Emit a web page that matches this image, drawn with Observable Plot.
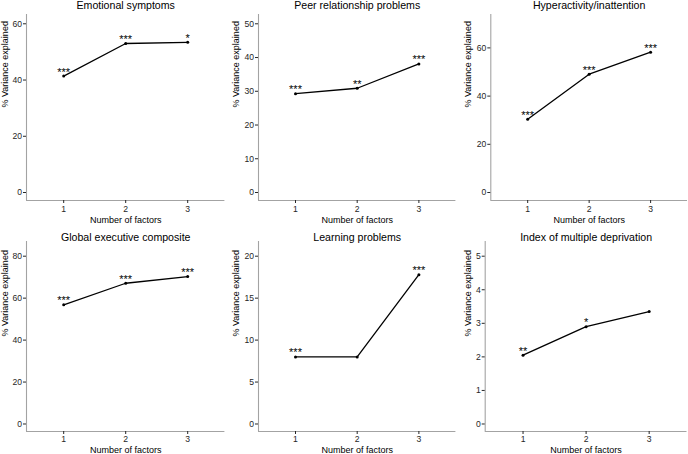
<!DOCTYPE html>
<html>
<head>
<meta charset="utf-8">
<script src="https://cdn.jsdelivr.net/npm/d3@7"></script>
<script src="https://cdn.jsdelivr.net/npm/@observablehq/plot@0.6"></script>
<style>
  html, body { margin: 0; padding: 0; background: white; }
  #wrap { position: relative; width: 688px; height: 454px; background: white; overflow: hidden; }
  #wrap > svg { position: absolute; overflow: visible; }
</style>
</head>
<body>
<div id="wrap"></div>
<script>
// ---- data ----
const titles = ["Emotional symptoms", "Peer relationship problems", "Hyperactivity/inattention",
                "Global executive composite", "Learning problems", "Index of multiple deprivation"];
const factors = [1, 2, 3];
const emotional   = [41.4, 53.0, 53.4];
const peer        = [29.3, 30.9, 38.1];
const hyper       = [30.4, 49.1, 58.2];
const executive   = [56.8, 67.1, 70.3];
const learning    = [8.0, 8.0, 17.8];
const deprivation = [2.05, 2.9, 3.35];
const sigEmotional   = ["***", "***", "*"];
const sigPeer        = ["***", "**", "***"];
const sigHyper       = ["***", "***", "***"];
const sigExecutive   = ["***", "***", "***"];
const sigLearning    = ["***", "", "***"];
const sigDeprivation = ["**", "*", ""];
const yLimits = [60, 50, 70, 80, 20, 5];
const yTicks = [
  [0, 20, 40, 60],
  [0, 10, 20, 30, 40, 50],
  [0, 20, 40, 60],
  [0, 20, 40, 60, 80],
  [0, 5, 10, 15, 20],
  [0, 1, 2, 3, 4, 5]
];
const xLabel = "Number of factors";
const yLabel = "% Variance explained";

const series = [emotional, peer, hyper, executive, learning, deprivation];
const sigs = [sigEmotional, sigPeer, sigHyper, sigExecutive, sigLearning, sigDeprivation];

// ---- layout ----
const top1 = {mT: 14, mB: 27, titleDy: -5.7, xDy: 22.7, tickPad: 2, lo: 0.0474, hi: 1.0551};
const top2 = {mT: 14, mB: 23, titleDy: -1.0, xDy: 21.8, tickPad: 1, lo: 0.0447, hi: 1.0876};
const layout = [
  {left: 0,   top: 0,   w: 229, h: 227, mL: 26,   mR: 4.6, yLab: 4.3, ...top1},
  {left: 229, top: 0,   w: 229, h: 227, mL: 29,   mR: 2.6, yLab: 6.7, ...top1},
  {left: 458, top: 0,   w: 230, h: 227, mL: 32.3, mR: 1.0, yLab: 9.7, ...top1},
  {left: 0,   top: 227, w: 229, h: 227, mL: 26,   mR: 4.6, yLab: 4.3, ...top2},
  {left: 229, top: 227, w: 229, h: 227, mL: 29,   mR: 2.6, yLab: 6.7, ...top2},
  {left: 458, top: 227, w: 230, h: 227, mL: 26.7, mR: 1.5, yLab: 9.7, ...top2}
];

const font = "'Liberation Sans', Arial, Helvetica, sans-serif";
const wrap = document.getElementById("wrap");
const xDomain = [0.4, 3.6];
const fmt = d => String(d);

titles.forEach((title, i) => {
  const L = layout[i];
  const rows = factors.map((f, j) => ({f, v: series[i][j], sig: sigs[i][j]}));
  const yDomain = [-L.lo * yLimits[i], L.hi * yLimits[i]];
  const chart = Plot.plot({
    width: L.w, height: L.h,
    marginLeft: L.mL, marginRight: L.mR, marginTop: L.mT, marginBottom: L.mB,
    style: {fontFamily: font, background: "transparent", overflow: "visible", color: "black"},
    x: {domain: xDomain},
    y: {domain: yDomain},
    marks: [
      Plot.ruleX([xDomain[0]], {stroke: "#a3a3a3", strokeWidth: 1.1}),
      Plot.ruleY([yDomain[0]], {stroke: "#a3a3a3", strokeWidth: 1.1}),
      Plot.axisY({ticks: yTicks[i], tickFormat: fmt, tickSize: 3, tickPadding: 1.5, fontSize: 8.6, color: "#262626", label: null}),
      Plot.axisX({ticks: factors, tickFormat: fmt, tickSize: 3, tickPadding: L.tickPad, fontSize: 8.6, color: "#262626", label: null}),
      Plot.line(rows, {x: "f", y: "v", stroke: "black", strokeWidth: 1.3}),
      Plot.dot(rows, {x: "f", y: "v", r: 1.5, fill: "black", stroke: "none"}),
      Plot.text(rows, {x: "f", y: "v", text: "sig", lineAnchor: "bottom", dy: -0.5, fontSize: 11, fill: "black"}),
      Plot.text([title], {text: d => d, frameAnchor: "top", lineAnchor: "bottom", dy: L.titleDy, fontSize: 10.6, fill: "black"}),
      Plot.text([xLabel], {text: d => d, frameAnchor: "bottom", lineAnchor: "bottom", dy: L.xDy, fontSize: 9, fill: "black"}),
      Plot.text([yLabel], {text: d => d, frameAnchor: "left", rotate: -90, dx: L.yLab - L.mL, fontSize: 9, fill: "black"})
    ]
  });
  chart.style.left = L.left + "px";
  chart.style.top = L.top + "px";
  wrap.appendChild(chart);
});
</script>
</body>
</html>
